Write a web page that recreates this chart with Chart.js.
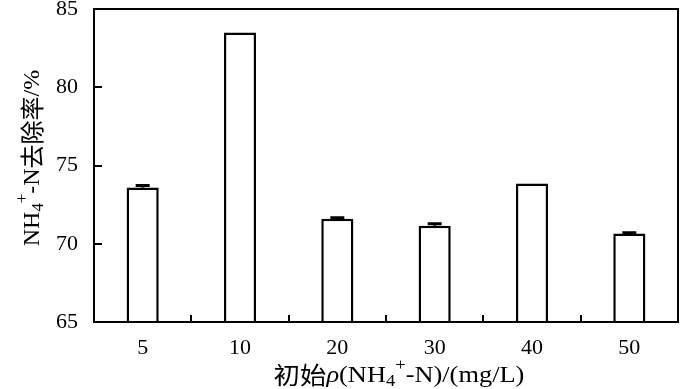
<!DOCTYPE html>
<html>
<head>
<meta charset="utf-8">
<script src="https://cdn.jsdelivr.net/npm/chart.js@4.4.1/dist/chart.umd.min.js"></script>
<style>
  html, body { margin: 0; padding: 0; background: #fff; }
  #wrap { width: 700px; height: 389px; }
</style>
</head>
<body>
<div id="wrap"><canvas id="chart" width="700" height="389"></canvas></div>
<script>
// Data
const categories = ['5', '10', '20', '30', '40', '50'];
const removalRate = [73.6, 83.5, 71.6, 71.15, 73.85, 70.65];
const errorValues = [0.12, 0, 0.06, 0.12, 0, 0.06];
const yTicks = [65, 70, 75, 80, 85];

const SERIF = '"Liberation Serif", "Times New Roman", serif';
const CJK = '"Noto Sans CJK SC", sans-serif';
const FS = 22;   // tick labels
const TS = 24;   // axis titles

// draw a line of mixed text (sub/superscripts, CJK, italic) centered on (cx, cy)
function drawRich(ctx, parts, cx, cy, rotate, stretch = 1) {
    ctx.save();
    ctx.translate(cx, cy);
    if (rotate) ctx.rotate(-Math.PI / 2);
    ctx.scale(stretch, 1);
    ctx.fillStyle = '#000';
    ctx.textBaseline = 'middle';
    ctx.textAlign = 'left';
    let total = 0;
    parts.forEach(p => {
        ctx.font = p.font;
        p.w = ctx.measureText(p.text).width;
        total += p.w;
    });
    let x = -total / 2;
    parts.forEach(p => {
        ctx.font = p.font;
        ctx.fillText(p.text, x, p.dy || 0);
        x += p.w;
    });
    ctx.restore();
}

const yTitle = [
    { text: 'NH', font: `${TS}px ${SERIF}` },
    { text: '4', font: `${TS * 0.7}px ${SERIF}`, dy: 6 },
    { text: '+', font: `${TS * 0.7}px ${SERIF}`, dy: -10 },
    { text: '-N', font: `${TS}px ${SERIF}` },
    { text: '去除率', font: `${TS}px ${CJK}`, dy: -1 },
    { text: '/%', font: `${TS}px ${SERIF}` }
];
const xTitle = [
    { text: '初始', font: `${TS}px ${CJK}`, dy: -1 },
    { text: 'ρ', font: `italic ${TS}px ${SERIF}` },
    { text: '(NH', font: `${TS}px ${SERIF}` },
    { text: '4', font: `${TS * 0.7}px ${SERIF}`, dy: 6 },
    { text: '+', font: `${TS * 0.7}px ${SERIF}`, dy: -10 },
    { text: '-N)/(mg/L)', font: `${TS}px ${SERIF}` }
];

const framePlugin = {
    id: 'frame',
    afterDatasetsDraw(chart) {
        const { ctx, chartArea: a, scales: { x, y } } = chart;
        ctx.save();
        ctx.strokeStyle = '#000';
        ctx.lineCap = 'butt';

        // error bars
        ctx.lineWidth = 3;
        const meta = chart.getDatasetMeta(0);
        meta.data.forEach((bar, i) => {
            if (!errorValues[i]) return;
            const top = y.getPixelForValue(removalRate[i] + errorValues[i]);
            const base = y.getPixelForValue(removalRate[i]);
            ctx.beginPath();
            ctx.moveTo(bar.x, base);
            ctx.lineTo(bar.x, top);
            ctx.moveTo(bar.x - 7, top);
            ctx.lineTo(bar.x + 7, top);
            ctx.stroke();
        });

        // frame
        ctx.lineWidth = 2;
        ctx.strokeRect(a.left, a.top, a.right - a.left, a.bottom - a.top);

        // inward ticks on y axis
        ctx.beginPath();
        yTicks.forEach(v => {
            const py = Math.round(y.getPixelForValue(v));
            ctx.moveTo(a.left, py);
            ctx.lineTo(a.left + 8, py);
        });
        // inward ticks on x axis, at category boundaries
        const step = x.getPixelForValue(1) - x.getPixelForValue(0);
        for (let i = 1; i < categories.length; i++) {
            const px = Math.round(x.getPixelForValue(i) - step / 2);
            ctx.moveTo(px, a.bottom);
            ctx.lineTo(px, a.bottom - 7);
        }
        ctx.stroke();
        ctx.restore();

        drawRich(ctx, yTitle, 33, 158, true);
        drawRich(ctx, xTitle, 399, 376, false, 1.1);
    }
};

new Chart(document.getElementById('chart'), {
    type: 'bar',
    data: {
        labels: categories,
        datasets: [{
            data: removalRate,
            backgroundColor: '#fff',
            borderColor: '#000',
            borderWidth: 2.5,
            barPercentage: 0.33,
            categoryPercentage: 1
        }]
    },
    options: {
        responsive: false,
        animation: false,
        devicePixelRatio: 1,
        layout: { padding: { top: 9, right: 22, left: 0, bottom: 0 } },
        plugins: { legend: { display: false }, tooltip: { enabled: false } },
        scales: {
            x: {
                grid: { display: false },
                border: { display: false },
                ticks: { color: '#000', font: { family: SERIF, size: FS }, padding: 5 },
                afterFit(s) { s.height = 67; s.paddingLeft = 0; s.paddingRight = 0; }
            },
            y: {
                min: 65,
                max: 85,
                grid: { display: false },
                border: { display: false },
                afterBuildTicks(s) { s.ticks = yTicks.map(v => ({ value: v })); },
                ticks: { color: '#000', font: { family: SERIF, size: FS }, padding: 8 },
                afterFit(s) { s.width = 94; s.paddingTop = 0; s.paddingBottom = 0; }
            }
        }
    },
    plugins: [framePlugin]
});
</script>
</body>
</html>
